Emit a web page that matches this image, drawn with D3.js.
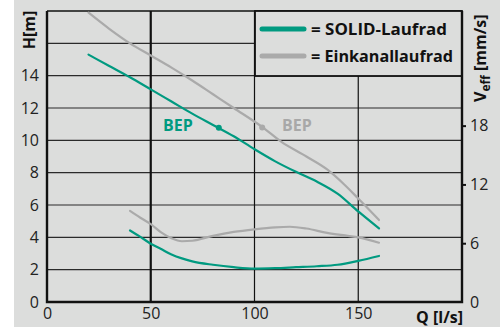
<!DOCTYPE html>
<html><head><meta charset="utf-8">
<script src="https://cdn.jsdelivr.net/npm/d3@7/dist/d3.min.js"></script>
<style>
html,body{margin:0;padding:0;background:#fff;}
svg{display:block;}
text{font-family:"Open Sans",sans-serif;}
</style></head>
<body>
<svg id="chart" width="500" height="327"></svg>
<script>
// ---- data ----
const xTicks = [0, 50, 100, 150];
const hTicks = [0, 2, 4, 6, 8, 10, 12, 14];
const hGrid = [2, 4, 6, 8, 10, 12, 14, 16];
const vTicks = [0, 6, 12, 18];

const solidHQ = [20, 30, 40, 50, 60, 70, 80, 90, 100, 110, 120, 130, 140, 150, 160];
const solidH  = [15.3, 14.6, 13.9, 13.15, 12.4, 11.65, 10.95, 10.25, 9.45, 8.7, 8.05, 7.45, 6.7, 5.6, 4.55];

const einHQ = [20, 30, 40, 50, 60, 70, 80, 90, 104, 113, 125, 135, 143, 150, 160];
const einH  = [17.9, 16.9, 16.0, 15.25, 14.5, 13.7, 12.85, 12.0, 10.8, 9.9, 9.0, 8.2, 7.3, 6.4, 5.07];

const solidVQ = [40, 45, 50, 55, 60, 65, 70, 80, 90, 100, 110, 120, 130, 140, 150, 160];
const solidV  = [7.3, 6.65, 5.95, 5.4, 4.85, 4.45, 4.15, 3.8, 3.55, 3.4, 3.45, 3.55, 3.65, 3.8, 4.2, 4.7];

const einVQ = [40, 45, 50, 55, 60, 65, 70, 80, 90, 100, 110, 117, 125, 135, 145, 150, 160];
const einV  = [9.3, 8.6, 7.95, 7.1, 6.5, 6.2, 6.25, 6.75, 7.15, 7.42, 7.62, 7.68, 7.5, 7.05, 6.75, 6.6, 6.05];

const bepSolid = [82.8, 10.78];
const bepEin = [103.7, 10.8];

const legendLabels = ["= SOLID-Laufrad", "= Einkanallaufrad"];

// ---- layout ----
const teal = "#009a80", grey = "#aaaaaa", bg = "#dcdddc", ink = "#111";
const L = 47, R = 462, T = 11, B = 302;
const svg = d3.select("#chart");

svg.append("rect").attr("x", 14).attr("y", 0).attr("width", 486).attr("height", 327).attr("fill", bg);

const x = d3.scaleLinear().domain([0, 200]).range([L, R]);
const y = d3.scaleLinear().domain([0, 18]).range([B, T]);
const yv = d3.scaleLinear().domain([0, 29.7]).range([B, T]);

// grid
const g = svg.append("g");
g.selectAll("line.h").data(hGrid).enter().append("line")
  .attr("x1", L).attr("x2", R).attr("y1", d => y(d)).attr("y2", d => y(d))
  .attr("stroke", "#2a2a2a").attr("stroke-width", 1.2);
g.selectAll("line.v").data(xTicks.slice(1)).enter().append("line")
  .attr("x1", d => x(d)).attr("x2", d => x(d)).attr("y1", T).attr("y2", B)
  .attr("stroke", ink).attr("stroke-width", d => d === 50 ? 2.2 : 1.2);
g.append("line").attr("x1", L).attr("x2", R).attr("y1", T).attr("y2", T).attr("stroke", ink).attr("stroke-width", 1.4);

// curves
const line = (xs, ys, sc) => d3.line().curve(d3.curveMonotoneX)
  .x((d, i) => x(xs[i])).y((d, i) => sc(ys[i]))(xs);
const curves = [
  [einHQ, einH, y, grey], [einVQ, einV, yv, grey],
  [solidHQ, solidH, y, teal], [solidVQ, solidV, yv, teal]
];
curves.forEach(([xs, ys, sc, c]) => {
  svg.append("path").attr("d", line(xs, ys, sc)).attr("fill", "none")
    .attr("stroke", c).attr("stroke-width", 2.2).attr("stroke-linecap", "round");
});

// BEP
svg.append("circle").attr("cx", x(bepSolid[0])).attr("cy", y(bepSolid[1])).attr("r", 3).attr("fill", teal);
svg.append("circle").attr("cx", x(bepEin[0])).attr("cy", y(bepEin[1])).attr("r", 3).attr("fill", grey);
svg.append("text").attr("x", 163).attr("y", 131).attr("font-size", 16).attr("font-weight", 700)
  .attr("fill", teal).text("BEP");
svg.append("text").attr("x", 282).attr("y", 131).attr("font-size", 16).attr("font-weight", 700)
  .attr("fill", "#a8a8a8").text("BEP");

// legend box
const lg = svg.append("g");
lg.append("rect").attr("x", 255).attr("y", T).attr("width", R - 255).attr("height", 65)
  .attr("fill", bg).attr("stroke", ink).attr("stroke-width", 1.8);
[teal, grey].forEach((c, i) => {
  const yy = 29 + i * 27;
  lg.append("line").attr("x1", 262).attr("x2", 304).attr("y1", yy).attr("y2", yy)
    .attr("stroke", c).attr("stroke-width", 5).attr("stroke-linecap", "round");
  lg.append("text").attr("x", 311).attr("y", yy + 5.5).attr("font-size", 16).attr("font-weight", 700)
    .attr("fill", ink).attr("textLength", i === 0 ? 136 : 142).attr("lengthAdjust", "spacingAndGlyphs")
    .text(legendLabels[i]);
});

// axes frame
svg.append("path").attr("d", `M${L},${T}V${B}H${R}V${T}`).attr("fill", "none")
  .attr("stroke", ink).attr("stroke-width", 2.4);

// left axis
const ax = svg.append("g").attr("transform", `translate(${L},0)`)
  .call(d3.axisLeft(y).tickValues(hTicks).tickSize(0).tickPadding(8));
ax.select(".domain").remove();
ax.selectAll("text").attr("font-size", 16).attr("fill", "#222").attr("font-family", "Open Sans");

// bottom axis
const bx = svg.append("g").attr("transform", `translate(0,${B})`)
  .call(d3.axisBottom(x).tickValues(xTicks).tickSize(0).tickPadding(6));
bx.select(".domain").remove();
bx.selectAll("text").attr("font-size", 16).attr("fill", "#222").attr("font-family", "Open Sans");

// right axis
const rx = svg.append("g").attr("transform", `translate(${R},0)`)
  .call(d3.axisRight(yv).tickValues(vTicks).tickSize(0).tickPadding(8));
rx.select(".domain").remove();
rx.selectAll("text").attr("font-size", 16).attr("fill", "#222").attr("font-family", "Open Sans");
rx.selectAll(".tick").filter(d => d > 0).append("line")
  .attr("x1", 1).attr("x2", 4).attr("stroke", ink).attr("stroke-width", 2);

// axis titles
svg.append("text").attr("x", 463).attr("y", 323).attr("text-anchor", "end")
  .attr("font-size", 16).attr("font-weight", 700).attr("fill", ink).text("Q [l/s]");
svg.append("text").attr("transform", "translate(34.5,30) rotate(-90)").attr("text-anchor", "middle")
  .attr("font-size", 16).attr("font-weight", 700).attr("fill", ink).text("H[m]");
const vt = svg.append("text").attr("transform", "translate(486,102) rotate(-90)").attr("text-anchor", "start")
  .attr("font-size", 16).attr("font-weight", 700).attr("fill", ink);
vt.append("tspan").text("V");
vt.append("tspan").attr("font-size", 12).attr("dy", 4).text("eff");
vt.append("tspan").attr("dy", -4).text(" [mm/s]");
</script>
</body></html>
